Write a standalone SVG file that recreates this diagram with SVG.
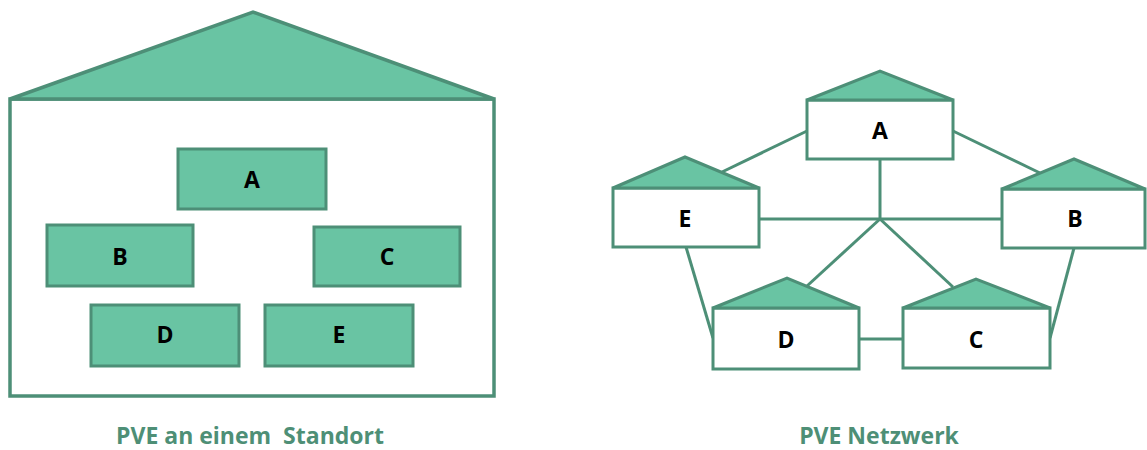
<svg xmlns="http://www.w3.org/2000/svg" width="1147" height="450" viewBox="0 0 1147 450">
  <style>
    .roof { fill: #69c4a3; stroke: #4d8f77; stroke-width: 3.5; stroke-linejoin: miter; }
    .body { fill: #ffffff; stroke: #4d8f77; stroke-width: 3.5; }
    .site { fill: #69c4a3; stroke: #4d8f77; stroke-width: 3; }
    .box { fill: #ffffff; stroke: #4d8f77; stroke-width: 3; }
    .hut { fill: #69c4a3; stroke: #4d8f77; stroke-width: 3; stroke-linejoin: miter; }
    .link { fill: none; stroke: #4d8f77; stroke-width: 3; }
    .lbl { font-family: "Open Sans", "DejaVu Sans", sans-serif; font-weight: bold; font-size: 23px; fill: #000000; text-anchor: middle; }
    .title { font-family: "Open Sans", "DejaVu Sans", sans-serif; font-weight: bold; font-size: 23px; fill: #4e8f76; text-anchor: middle; }
  </style>

  <!-- Single-site building -->
  <g id="site-building">
    <rect class="body" x="10" y="99" width="484" height="297"/>
    <polygon class="roof" points="10,99 253,12 494,99"/>
  </g>
  <g id="site-A"><rect class="site" x="178" y="149" width="148" height="60"/><text class="lbl" x="252" y="188">A</text></g>
  <g id="site-B"><rect class="site" x="47" y="225" width="146" height="61"/><text class="lbl" x="120" y="265">B</text></g>
  <g id="site-C"><rect class="site" x="314" y="227" width="146" height="59"/><text class="lbl" x="387" y="265">C</text></g>
  <g id="site-D"><rect class="site" x="91" y="305" width="148" height="61"/><text class="lbl" x="165" y="343">D</text></g>
  <g id="site-E"><rect class="site" x="265" y="305" width="148" height="61"/><text class="lbl" x="339" y="343">E</text></g>
  <text id="title-left" class="title" x="250" y="444" xml:space="preserve">PVE an einem  Standort</text>

  <!-- Network links -->
  <g id="connectors">
    <line class="link" x1="880" y1="159" x2="880" y2="219"/>
    <line class="link" x1="759" y1="219" x2="1002" y2="219"/>
    <line class="link" x1="880" y1="219" x2="807" y2="286"/>
    <line class="link" x1="880" y1="219" x2="953" y2="287"/>
    <line class="link" x1="807" y1="131" x2="722" y2="172"/>
    <line class="link" x1="953" y1="131" x2="1040" y2="173"/>
    <line class="link" x1="686" y1="247" x2="713" y2="338"/>
    <line class="link" x1="1074" y1="248" x2="1050" y2="338"/>
    <line class="link" x1="859" y1="339" x2="903" y2="339"/>
  </g>

  <!-- Network nodes -->
  <g id="net-A">
    <rect class="box" x="807" y="100" width="146" height="59"/>
    <polygon class="hut" points="807,100 880,71 953,100"/>
    <text class="lbl" x="880" y="139">A</text>
  </g>
  <g id="net-E">
    <rect class="box" x="613" y="188" width="146" height="59"/>
    <polygon class="hut" points="613,188 685,157 759,188"/>
    <text class="lbl" x="685" y="227">E</text>
  </g>
  <g id="net-B">
    <rect class="box" x="1002" y="189" width="143" height="59"/>
    <polygon class="hut" points="1002,189 1074,159 1145,189"/>
    <text class="lbl" x="1075" y="227">B</text>
  </g>
  <g id="net-D">
    <rect class="box" x="713" y="308" width="146" height="61"/>
    <polygon class="hut" points="713,308 787,278 859,308"/>
    <text class="lbl" x="786" y="348">D</text>
  </g>
  <g id="net-C">
    <rect class="box" x="903" y="308" width="147" height="60"/>
    <polygon class="hut" points="903,308 976,279 1050,308"/>
    <text class="lbl" x="976" y="348">C</text>
  </g>
  <text id="title-right" class="title" x="879" y="444">PVE Netzwerk</text>
</svg>
